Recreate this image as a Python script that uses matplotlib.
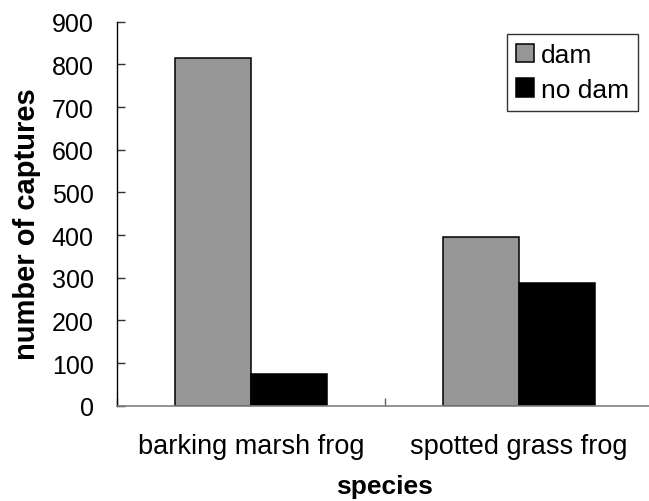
import matplotlib
matplotlib.use("Agg")
import matplotlib.pyplot as plt
import numpy as np

categories = ["barking marsh frog", "spotted grass frog"]
series_names = ["dam", "no dam"]
dam = [814, 395]
no_dam = [75, 288]
yticks = [0, 100, 200, 300, 400, 500, 600, 700, 800, 900]

plt.rcParams['font.family'] = ['Liberation Sans', 'DejaVu Sans']

W, H = 649, 502
fig = plt.figure(figsize=(W / 100, H / 100), dpi=100)
left, right, bottom, top = 117.3, 653, 406.7, 22.7
ax = fig.add_axes([left / W, 1 - bottom / H, (right - left) / W, (bottom - top) / H])

x = np.arange(len(categories))
bw = 0.284
ax.bar(x - bw / 2, dam, width=bw, color="#969696", edgecolor="black", linewidth=1.1, label=series_names[0], zorder=2)
ax.bar(x + bw / 2, no_dam, width=bw, color="black", edgecolor="black", linewidth=1.1, label=series_names[1], zorder=2)

ax.set_xlim(-0.5, len(categories) - 0.5)
ax.set_ylim(0, 900)
ax.set_yticks(yticks)
ax.set_yticklabels([str(v) for v in yticks])
ax.set_xticks(x)
ax.set_xticklabels(categories)
ax.set_xticks(np.arange(len(categories) + 1) - 0.5, minor=True)

for s in ["top", "right"]:
    ax.spines[s].set_visible(False)
ax.spines["left"].set_color("black")
ax.spines["left"].set_linewidth(1.0)
ax.spines["bottom"].set_color("#808080")
ax.spines["bottom"].set_linewidth(1.2)

ax.tick_params(axis="y", direction="in", length=6, width=1, color="#303030", labelsize=18, pad=17)
ax.tick_params(axis="x", which="major", length=0, labelsize=19.5, pad=20)
ax.tick_params(axis="x", which="minor", direction="in", length=6, width=1, color="#606060")

ax.set_ylabel("number of captures", fontsize=21, fontweight="bold")
ax.set_xlabel("species", fontsize=19, fontweight="bold")
ax.yaxis.set_label_coords(27 / W, 1 - 224 / H, transform=fig.transFigure)
ax.xaxis.set_label_coords(384 / W, 1 - 487 / H, transform=fig.transFigure)
ax.xaxis.label.set_verticalalignment("center")
ax.yaxis.label.set_verticalalignment("center")

leg = fig.legend(loc="upper left", bbox_to_anchor=(506.7 / W, 1 - 35 / H),
                 fontsize=19, frameon=True, fancybox=False, edgecolor="black",
                 handlelength=0.7, handleheight=0.7, handletextpad=0.25,
                 borderpad=0.35, labelspacing=0.4, borderaxespad=0)
leg.get_frame().set_linewidth(1.0)

fig.savefig("out.png", dpi=100)
